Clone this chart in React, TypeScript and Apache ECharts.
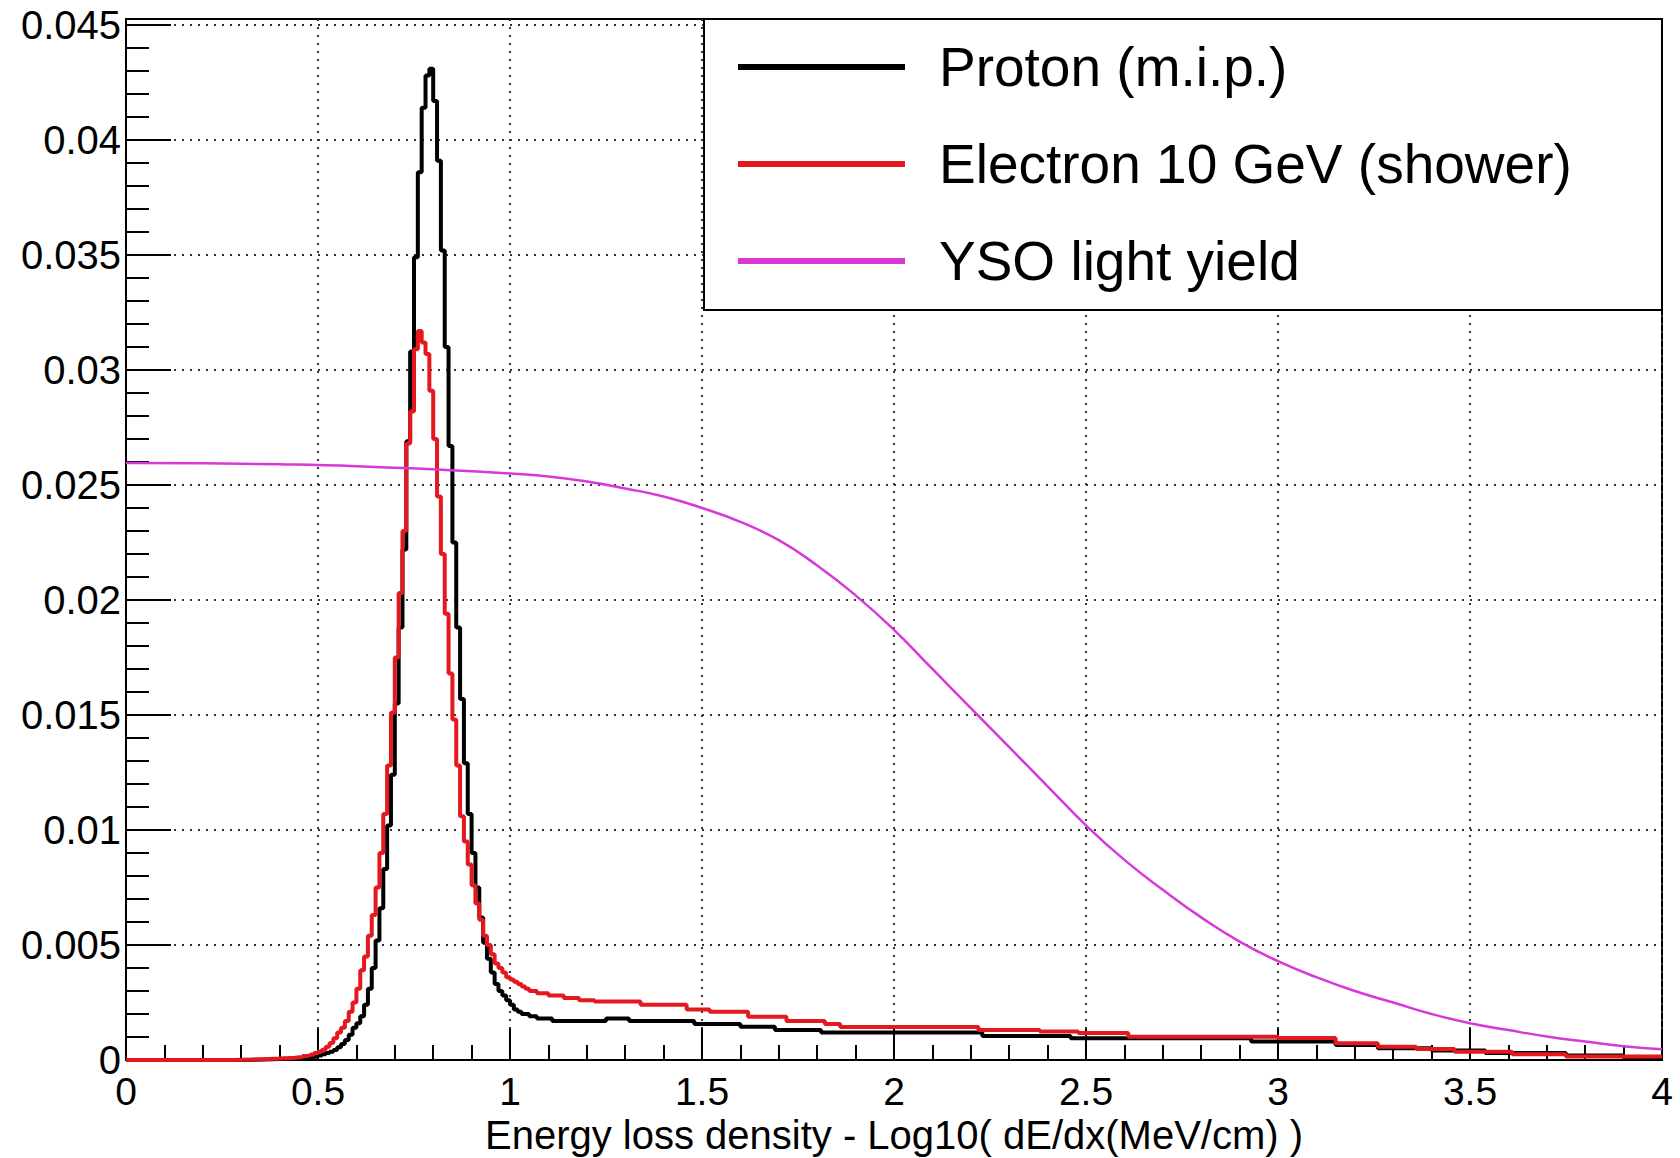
import React, { useEffect, useRef } from "react";
import * as echarts from "echarts";

// Histogram bin lower edges (change points) and contents
const protonEdges = [
  0, 0.30, 0.36, 0.40, 0.43, 0.45, 0.47, 0.49, 0.50, 0.51, 0.52, 0.53, 0.54, 0.55, 0.56, 0.57, 0.58, 0.59,
  0.60, 0.61, 0.62, 0.63, 0.64, 0.65, 0.66, 0.67, 0.68, 0.69, 0.70, 0.71, 0.72, 0.73, 0.74, 0.75, 0.76,
  0.77, 0.78, 0.79, 0.80, 0.81, 0.82, 0.83, 0.84, 0.85, 0.86, 0.87, 0.88, 0.89, 0.90, 0.91, 0.92, 0.93,
  0.94, 0.95, 0.96, 0.97, 0.98, 0.99, 1.00, 1.01, 1.02, 1.03, 1.05, 1.07, 1.11, 1.25, 1.31, 1.48, 1.60,
  1.69, 1.81, 2.23, 2.46, 2.93, 3.15, 3.26, 3.40, 3.54, 3.75, 3.90, 4.00,
];
const protonValues = [
  0, 0.00002, 0.00004, 0.00006, 0.00008, 0.0001, 0.00013, 0.00016, 0.0002, 0.00025, 0.0003, 0.00036, 0.00043, 0.00055, 0.0007, 0.00087, 0.0011, 0.0014,
  0.0016, 0.0019, 0.0024, 0.0031, 0.004, 0.0052, 0.0066, 0.0083, 0.0102, 0.0124, 0.0155, 0.0188, 0.0222, 0.0269, 0.0308, 0.0349, 0.0386,
  0.0414, 0.0428, 0.0431, 0.0417, 0.0391, 0.0352, 0.031, 0.0267, 0.0225, 0.0188, 0.0157, 0.0129, 0.0107, 0.009, 0.0075, 0.0062, 0.0051,
  0.0044, 0.0038, 0.0033, 0.003, 0.0028, 0.0026, 0.0024, 0.0022, 0.0021, 0.002, 0.0019, 0.0018, 0.0017, 0.0018, 0.0017, 0.00157, 0.00145,
  0.0013, 0.0012, 0.00104, 0.00095, 0.0008, 0.00065, 0.00051, 0.00041, 0.0003, 0.0002, 0.0001, 0.0001,
];

const electronEdges = [
  0, 0.28, 0.33, 0.37, 0.40, 0.42, 0.44, 0.46, 0.47, 0.48, 0.49, 0.50, 0.51, 0.52, 0.53, 0.54, 0.55, 0.56,
  0.57, 0.58, 0.59, 0.60, 0.61, 0.62, 0.63, 0.64, 0.65, 0.66, 0.67, 0.68, 0.69, 0.70, 0.71, 0.72, 0.73,
  0.74, 0.75, 0.76, 0.77, 0.78, 0.79, 0.80, 0.81, 0.82, 0.83, 0.84, 0.85, 0.86, 0.87, 0.88, 0.89, 0.90,
  0.91, 0.92, 0.93, 0.94, 0.95, 0.96, 0.97, 0.98, 0.99, 1.00, 1.01, 1.02, 1.03, 1.04, 1.05, 1.07, 1.10,
  1.14, 1.18, 1.22, 1.34, 1.46, 1.52, 1.62, 1.72, 1.82, 1.86, 2.22, 2.38, 2.48, 2.61, 3.00, 3.15, 3.26,
  3.36, 3.46, 3.61, 3.75, 4.00,
];
const electronValues = [
  0, 0.00002, 0.00004, 0.00006, 0.00008, 0.0001, 0.00013, 0.00017, 0.0002, 0.00024, 0.0003, 0.00036, 0.00045, 0.00058, 0.00074, 0.00095, 0.0012, 0.0014,
  0.0017, 0.0021, 0.0025, 0.0031, 0.0039, 0.0045, 0.0054, 0.0063, 0.0075, 0.009, 0.0107, 0.0128, 0.0151, 0.0175, 0.0203, 0.023, 0.0268,
  0.0282, 0.0309, 0.0317, 0.0312, 0.0307, 0.0291, 0.027, 0.0245, 0.022, 0.0194, 0.0168, 0.0148, 0.0128, 0.0106, 0.0095, 0.0085, 0.0076,
  0.0068, 0.0061, 0.0054, 0.005, 0.0046, 0.0042, 0.004, 0.0038, 0.0036, 0.0035, 0.0034, 0.0033, 0.0032, 0.0031, 0.003, 0.0029, 0.0028,
  0.0027, 0.0026, 0.00254, 0.0024, 0.0022, 0.0021, 0.00188, 0.0017, 0.00157, 0.00143, 0.0013, 0.00124, 0.00117, 0.00101, 0.00096, 0.00073, 0.00058,
  0.00048, 0.00036, 0.00025, 0.00015, 0.00015,
];

const ysoX = [0, 0.2, 0.4, 0.6, 0.8, 1.0, 1.1, 1.2, 1.3, 1.4, 1.5, 1.6, 1.7, 1.8, 1.9, 2.0, 2.1, 2.2, 2.3, 2.4, 2.5, 2.6, 2.7, 2.8, 2.9, 3.0, 3.1, 3.2, 3.3, 3.4, 3.5, 3.6, 3.7, 3.8, 3.9, 4.0];
const ysoY = [
  0.02596, 0.02594, 0.0259, 0.02582, 0.02568, 0.0255, 0.02537, 0.02515, 0.02485, 0.0245, 0.0240, 0.0234, 0.0226, 0.0215, 0.0202, 0.0187,
  0.0170, 0.0153, 0.0136, 0.0119, 0.0102, 0.0087, 0.0074, 0.0062, 0.00515, 0.0043, 0.0036, 0.0030, 0.0025, 0.0020, 0.0016, 0.0013, 0.00102,
  0.0008, 0.0006, 0.00047,
];

const yMajorTicks = [0, 0.005, 0.01, 0.015, 0.02, 0.025, 0.03, 0.035, 0.04, 0.045];
const yMinorTicks = [
  0.001, 0.002, 0.003, 0.004, 0.006, 0.007, 0.008, 0.009, 0.011, 0.012, 0.013, 0.014, 0.016, 0.017, 0.018, 0.019,
  0.021, 0.022, 0.023, 0.024, 0.026, 0.027, 0.028, 0.029, 0.031, 0.032, 0.033, 0.034, 0.036, 0.037, 0.038, 0.039,
  0.041, 0.042, 0.043, 0.044,
];

const seriesNames = ["Proton (m.i.p.)", "Electron 10 GeV (shower)", "YSO light yield"];
const xAxisTitle = "Energy loss density - Log10( dE/dx(MeV/cm) )";

const FONT = "'Liberation Sans', Arial, Helvetica, sans-serif";
const Y_MAX = 0.04526;

export default function App() {
  const ref = useRef<HTMLDivElement>(null);
  useEffect(() => {
    if (!ref.current) return;
    const chart = echarts.init(ref.current, undefined, { renderer: "svg" });
    const fmt = (v: number) => String(parseFloat(Number(v).toFixed(4)));
    const dotted = { color: "#333", width: 2, type: [2, 6] as any };
    chart.setOption({
      animation: false,
      backgroundColor: "#fff",
      textStyle: { fontFamily: FONT },
      grid: {
        left: 126,
        right: 18,
        top: 19,
        bottom: 98,
        containLabel: false,
        outerBoundsMode: "none",
        show: true,
        borderColor: "#000",
        borderWidth: 2,
      },
      xAxis: {
        type: "value",
        min: 0,
        max: 4,
        interval: 0.5,
        name: xAxisTitle,
        nameLocation: "middle",
        nameGap: 56,
        nameMoveOverlap: false,
        nameTextStyle: { fontSize: 40, color: "#000", fontFamily: FONT, lineHeight: 38 },
        axisLine: { show: true, lineStyle: { color: "#000", width: 2 } },
        axisTick: { show: true, inside: true, length: 31, lineStyle: { color: "#000", width: 2 } },
        minorTick: { show: true, splitNumber: 5, length: 15, lineStyle: { color: "#000", width: 2 } },
        axisLabel: { fontSize: 39, color: "#000", margin: 15, lineHeight: 32, fontFamily: FONT, formatter: fmt },
        splitLine: { show: true, lineStyle: dotted },
        minorSplitLine: { show: false },
      },
      yAxis: [
        {
          type: "value",
          min: 0,
          max: Y_MAX,
          interval: 0.005,
          axisLine: { show: true, lineStyle: { color: "#000", width: 2 } },
          axisTick: { show: true, inside: true, length: 45, customValues: yMajorTicks, lineStyle: { color: "#000", width: 2 } },
          axisLabel: { fontSize: 40, color: "#000", margin: 5, fontFamily: FONT, customValues: yMajorTicks, formatter: fmt },
          splitLine: { show: true, lineStyle: dotted },
        },
        {
          type: "value",
          min: 0,
          max: Y_MAX,
          position: "left",
          axisLine: { show: false },
          axisTick: { show: true, inside: true, length: 23, customValues: yMinorTicks, lineStyle: { color: "#000", width: 2 } },
          axisLabel: { show: false },
          splitLine: { show: false },
        },
      ],
      legend: {
        orient: "vertical",
        left: 733,
        top: 34,
        z: 20,
        icon: "rect",
        itemWidth: 167,
        itemHeight: 6,
        itemGap: 41,
        data: seriesNames,
        textStyle: { fontSize: 55, color: "#000", fontFamily: FONT, lineHeight: 56, padding: [0, 0, 0, 29] },
      },
      graphic: [
        {
          type: "rect",
          z: 10,
          shape: { x: 704, y: 19, width: 958, height: 291 },
          style: { fill: "#fff", stroke: "#000", lineWidth: 2 },
        },
      ],
      series: [
        {
          name: seriesNames[0],
          type: "line",
          step: "end",
          showSymbol: false,
          symbol: "none",
          color: "#000000",
          lineStyle: { width: 4, color: "#000000" },
          data: protonEdges.map((x, i) => [x, protonValues[i]]),
          z: 3,
        },
        {
          name: seriesNames[1],
          type: "line",
          step: "end",
          showSymbol: false,
          symbol: "none",
          color: "#e3191f",
          lineStyle: { width: 4, color: "#e3191f" },
          data: electronEdges.map((x, i) => [x, electronValues[i]]),
          z: 4,
        },
        {
          name: seriesNames[2],
          type: "line",
          smooth: true,
          showSymbol: false,
          symbol: "none",
          color: "#d838d8",
          lineStyle: { width: 2.5, color: "#d838d8" },
          data: ysoX.map((x, i) => [x, ysoY[i]]),
          z: 5,
        },
      ],
    });
    return () => chart.dispose();
  }, []);
  return (
    <div
      ref={ref}
      style={{ position: "fixed", left: 0, top: 0, width: 1680, height: 1158, background: "#fff" }}
    />
  );
}
